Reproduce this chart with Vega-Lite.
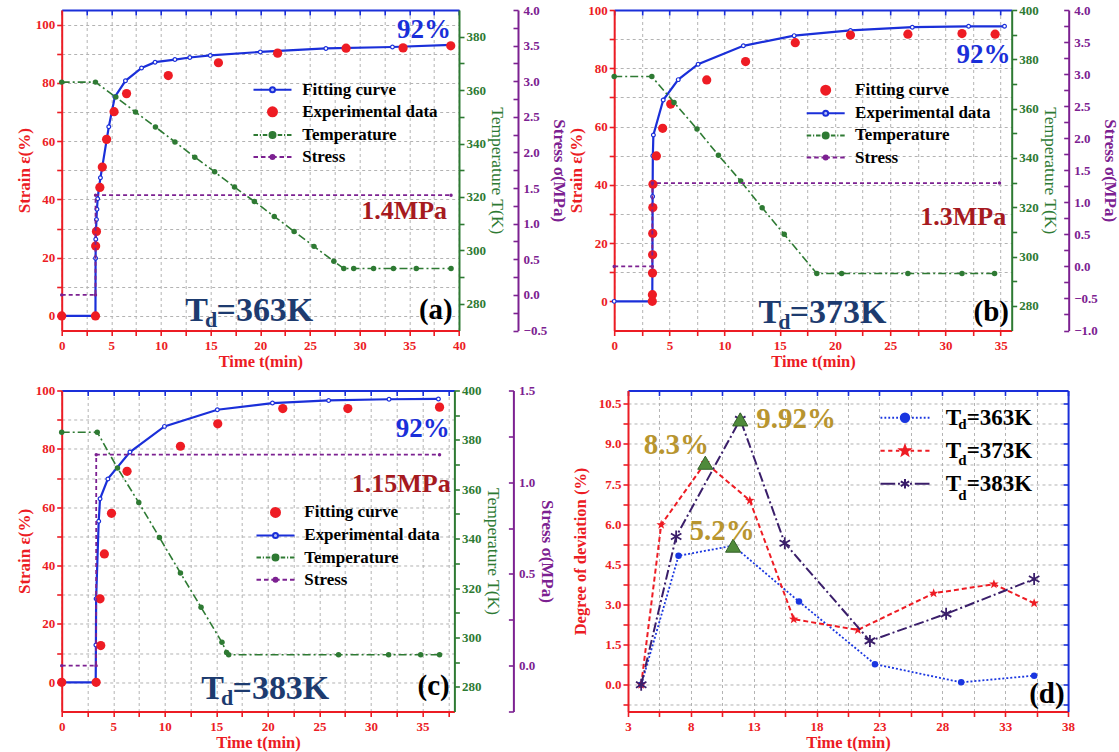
{
  "$schema": "https://vega.github.io/schema/vega-lite/v6.json",
  "background": "#ffffff",
  "padding": {"left": 14.7, "top": 4, "right": 4, "bottom": 4},
  "config": {
    "view": {"stroke": null},
    "font": "Liberation Serif",
    "axis": {
      "labelFont": "Liberation Serif", "titleFont": "Liberation Serif",
      "labelFontWeight": "bold", "titleFontWeight": "bold",
      "labelFontSize": 13, "titleFontSize": 17,
      "domainWidth": 2, "tickWidth": 1.6, "tickSize": 5,
      "labelPadding": 2, "titlePadding": 2,
      "labelFlush": false, "labelOverlap": false,
      "grid": false, "gridColor": "#b3b3b3", "gridDash": [3, 3], "gridWidth": 1
    },
    "legend": {"labelFont": "Liberation Serif", "labelFontWeight": "bold", "labelColor": "#000000", "labelLimit": 500, "padding": 0, "symbolOpacity": 1, "symbolStrokeWidth": 2}
  },
  "datasets": {
    "legend_keys": [{"series": "Fitting curve"}, {"series": "Experimental data"}, {"series": "Temperature"}, {"series": "Stress"}],
    "a_fit": [
      {"t": 0, "strain": 0}, {"t": 3.4, "strain": 0}, {"t": 3.41, "strain": 19.8}, {"t": 3.43, "strain": 26.3},
      {"t": 3.46, "strain": 29.7}, {"t": 3.5, "strain": 33.1}, {"t": 3.55, "strain": 36.6}, {"t": 3.62, "strain": 40.2},
      {"t": 3.75, "strain": 44}, {"t": 3.9, "strain": 47.4}, {"t": 4.1, "strain": 51.5}, {"t": 4.74, "strain": 64.9},
      {"t": 5.35, "strain": 75.2}, {"t": 6.42, "strain": 80.7}, {"t": 8.04, "strain": 85.1}, {"t": 9.4, "strain": 87.1},
      {"t": 11.4, "strain": 88}, {"t": 12.9, "strain": 88.7}, {"t": 14.96, "strain": 89.4}, {"t": 20, "strain": 90.6},
      {"t": 26.6, "strain": 91.8}, {"t": 33.3, "strain": 92.3}, {"t": 39.2, "strain": 93}
    ],
    "a_exp": [
      {"t": 0, "strain": 0}, {"t": 3.4, "strain": 0}, {"t": 3.42, "strain": 24}, {"t": 3.5, "strain": 29},
      {"t": 3.84, "strain": 44.1}, {"t": 4.09, "strain": 51.1}, {"t": 4.52, "strain": 60.6}, {"t": 5.27, "strain": 70.1},
      {"t": 6.53, "strain": 76.3}, {"t": 10.73, "strain": 82.5}, {"t": 15.78, "strain": 86.9}, {"t": 21.74, "strain": 90.2},
      {"t": 28.63, "strain": 91.9}, {"t": 34.37, "strain": 92}, {"t": 39.17, "strain": 92.7}
    ],
    "a_temp": [
      {"t": 0, "temp": 363}, {"t": 3.4, "temp": 363}, {"t": 5.45, "temp": 357.4}, {"t": 7.43, "temp": 351.8},
      {"t": 9.44, "temp": 346.2}, {"t": 11.4, "temp": 340.6}, {"t": 13.4, "temp": 334.9}, {"t": 15.4, "temp": 329.4},
      {"t": 17.4, "temp": 323.7}, {"t": 19.4, "temp": 318.3}, {"t": 21.4, "temp": 312.7}, {"t": 23.4, "temp": 307.1},
      {"t": 25.4, "temp": 301.5}, {"t": 27.4, "temp": 295.9}, {"t": 28.4, "temp": 293.2}, {"t": 29.4, "temp": 293.2},
      {"t": 31.4, "temp": 293.2}, {"t": 33.4, "temp": 293.2}, {"t": 35.7, "temp": 293.2}, {"t": 39.2, "temp": 293.2}
    ],
    "a_stress": [{"t": 0, "stress": 0}, {"t": 3.4, "stress": 0}, {"t": 3.41, "stress": 1.4}, {"t": 39.2, "stress": 1.4}],
    "b_blue": [
      {"t": 0, "strain": 0}, {"t": 3.4, "strain": 0}, {"t": 3.45, "strain": 1.7}, {"t": 3.46, "strain": 10},
      {"t": 3.47, "strain": 23}, {"t": 3.48, "strain": 36}, {"t": 3.5, "strain": 50}, {"t": 3.55, "strain": 57.1},
      {"t": 4.44, "strain": 69.1}, {"t": 5.8, "strain": 76.1}, {"t": 7.6, "strain": 81.4}, {"t": 11.7, "strain": 87.7},
      {"t": 16.3, "strain": 91.2}, {"t": 21.4, "strain": 93}, {"t": 27, "strain": 94.1}, {"t": 32.1, "strain": 94.4},
      {"t": 35.35, "strain": 94.4}
    ],
    "b_red": [
      {"t": 3.45, "strain": 0}, {"t": 3.46, "strain": 2.3}, {"t": 3.47, "strain": 9.7}, {"t": 3.48, "strain": 16},
      {"t": 3.49, "strain": 23.3}, {"t": 3.5, "strain": 32.2}, {"t": 3.51, "strain": 40.2}, {"t": 3.82, "strain": 49.9},
      {"t": 4.39, "strain": 59.4}, {"t": 5.12, "strain": 67.7}, {"t": 8.38, "strain": 76}, {"t": 11.9, "strain": 82.3},
      {"t": 16.4, "strain": 88.8}, {"t": 21.4, "strain": 91.4}, {"t": 26.6, "strain": 91.7}, {"t": 31.5, "strain": 91.9},
      {"t": 34.5, "strain": 91.7}
    ],
    "b_temp": [
      {"t": 0, "temp": 373}, {"t": 3.41, "temp": 373}, {"t": 5.42, "temp": 362.5}, {"t": 7.5, "temp": 351.7},
      {"t": 9.44, "temp": 341.1}, {"t": 11.46, "temp": 330.6}, {"t": 13.4, "temp": 319.8}, {"t": 15.4, "temp": 309},
      {"t": 18.35, "temp": 293.1}, {"t": 20.6, "temp": 293.1}, {"t": 26.6, "temp": 293.1}, {"t": 31.5, "temp": 293.1},
      {"t": 34.45, "temp": 293.1}
    ],
    "b_stress": [{"t": 0, "stress": 0}, {"t": 3.45, "stress": 0}, {"t": 3.46, "stress": 1.3}, {"t": 34.9, "stress": 1.3}],
    "c_blue": [
      {"t": 0, "strain": 0}, {"t": 3.3, "strain": 0}, {"t": 3.32, "strain": 12.8}, {"t": 3.34, "strain": 28.6},
      {"t": 3.59, "strain": 55.2}, {"t": 3.72, "strain": 62.9}, {"t": 4.48, "strain": 69.7}, {"t": 6.62, "strain": 78.9},
      {"t": 9.97, "strain": 87.7}, {"t": 15.1, "strain": 93.4}, {"t": 20.45, "strain": 95.7}, {"t": 25.9, "strain": 96.6},
      {"t": 31.76, "strain": 97}, {"t": 36.55, "strain": 97.1}
    ],
    "c_red": [
      {"t": 0, "strain": 0}, {"t": 3.34, "strain": 0}, {"t": 3.72, "strain": 28.6}, {"t": 3.79, "strain": 12.6},
      {"t": 4.14, "strain": 44}, {"t": 4.83, "strain": 57.9}, {"t": 6.34, "strain": 72.3}, {"t": 11.52, "strain": 80.9},
      {"t": 15.14, "strain": 88.6}, {"t": 21.45, "strain": 93.8}, {"t": 27.76, "strain": 93.8}, {"t": 36.66, "strain": 94.3}
    ],
    "c_temp": [
      {"t": 0, "temp": 383.1}, {"t": 3.45, "temp": 383.1}, {"t": 5.41, "temp": 368.6}, {"t": 7.48, "temp": 354.6},
      {"t": 9.48, "temp": 340.5}, {"t": 11.52, "temp": 326.1}, {"t": 13.52, "temp": 312.2}, {"t": 15.55, "temp": 298},
      {"t": 16, "temp": 293.9}, {"t": 16.2, "temp": 293}, {"t": 26.86, "temp": 293}, {"t": 31.72, "temp": 293},
      {"t": 34.83, "temp": 293}, {"t": 36.66, "temp": 293}
    ],
    "c_stress": [{"t": 0, "stress": 0}, {"t": 3.34, "stress": 0}, {"t": 3.35, "stress": 1.15}, {"t": 36.66, "stress": 1.15}],
    "d_dev": [
      {"Td": "363", "t": 4.05, "dev": 0}, {"Td": "363", "t": 7.02, "dev": 4.82}, {"Td": "363", "t": 11.36, "dev": 5.2},
      {"Td": "363", "t": 16.6, "dev": 3.11}, {"Td": "363", "t": 22.64, "dev": 0.77}, {"Td": "363", "t": 29.5, "dev": 0.09},
      {"Td": "363", "t": 35.3, "dev": 0.34},
      {"Td": "373", "t": 4.05, "dev": 0}, {"Td": "373", "t": 5.64, "dev": 5.98}, {"Td": "373", "t": 9.15, "dev": 8.3},
      {"Td": "373", "t": 12.69, "dev": 6.89}, {"Td": "373", "t": 16.18, "dev": 2.45}, {"Td": "373", "t": 21.28, "dev": 2.05},
      {"Td": "373", "t": 27.31, "dev": 3.42}, {"Td": "373", "t": 32.1, "dev": 3.76}, {"Td": "373", "t": 35.3, "dev": 3.05},
      {"Td": "383", "t": 4.05, "dev": 0}, {"Td": "383", "t": 6.83, "dev": 5.54}, {"Td": "383", "t": 11.93, "dev": 9.92},
      {"Td": "383", "t": 15.47, "dev": 5.29}, {"Td": "383", "t": 22.24, "dev": 1.64}, {"Td": "383", "t": 28.3, "dev": 2.65},
      {"Td": "383", "t": 35.3, "dev": 3.95}
    ],
    "d_peaks": [
      {"Td": "363", "t": 11.36, "dev": 5.2, "label": "5.2%"},
      {"Td": "373", "t": 9.15, "dev": 8.3, "label": "8.3%"},
      {"Td": "383", "t": 11.93, "dev": 9.92, "label": "9.92%"}
    ]
  },
  "spacing": 14.5,
  "resolve": {"scale": {"shape": "independent", "fill": "independent", "stroke": "independent", "strokeDash": "independent"}},
  "vconcat": [
    {
      "spacing": 154.5,
      "bounds": "flush",
      "resolve": {"scale": {"shape": "independent", "fill": "independent", "stroke": "independent", "strokeDash": "independent"}},
      "hconcat": [
        {
          "width": 397.3, "height": 320.5,
          "resolve": {"scale": {"y": "independent"}, "axis": {"x": "independent", "y": "independent"}},
          "layer": [
            {
              "data": {"name": "a_fit"},
              "mark": {"type": "line", "color": "#1a2fd9", "strokeWidth": 2.2, "point": {"filled": false, "fill": "#ffffff", "stroke": "#1a2fd9", "strokeWidth": 1.2, "size": 14}},
              "encoding": {
                "x": {"field": "t", "type": "quantitative", "scale": {"domain": [0, 40], "nice": false, "zero": false},
                  "axis": {"orient": "bottom", "values": [0, 2.5, 5, 7.5, 10, 12.5, 15, 17.5, 20, 22.5, 25, 27.5, 30, 32.5, 35, 37.5, 40], "labelExpr": "datum.value % 5 === 0 ? format(datum.value, 'd') : ''", "title": "Time t(min)", "titleFontSize": 16.5, "titleColor": "#ec1c24", "labelColor": "#ec1c24", "domainColor": "#ec1c24", "tickColor": "#ec1c24", "labelPadding": 4, "titlePadding": 1}},
                "y": {"field": "strain", "type": "quantitative", "scale": {"domain": [-5, 105], "nice": false, "zero": false},
                  "axis": {"orient": "left", "values": [0, 10, 20, 30, 40, 50, 60, 70, 80, 90, 100], "labelExpr": "datum.value % 20 === 0 ? datum.label : ''", "title": "Strain ε(%)", "titleColor": "#ec1c24", "labelColor": "#ec1c24", "domainColor": "#ec1c24", "tickColor": "#ec1c24", "grid": true}}
              }
            },
            {
              "data": {"name": "a_exp"},
              "mark": {"type": "point", "filled": true, "color": "#ee1c24", "opacity": 1, "size": 85},
              "encoding": {
                "x": {"field": "t", "type": "quantitative", "scale": {"domain": [0, 40], "nice": false, "zero": false},
                  "axis": {"orient": "top", "values": [0, 2.5, 5, 7.5, 10, 12.5, 15, 17.5, 20, 22.5, 25, 27.5, 30, 32.5, 35, 37.5, 40], "labels": false, "title": null, "tickSize": -5, "domainColor": "#1a2fd9", "tickColor": "#1a2fd9", "grid": true}},
                "y": {"field": "strain", "type": "quantitative", "scale": {"domain": [-5, 105], "nice": false, "zero": false}, "axis": null}
              }
            },
            {
              "data": {"name": "a_temp"},
              "mark": {"type": "line", "color": "#2e7a33", "strokeWidth": 1.6, "strokeDash": [8, 3, 2, 3], "point": {"filled": true, "color": "#2e7a33", "size": 30}},
              "encoding": {
                "x": {"field": "t", "type": "quantitative", "scale": {"domain": [0, 40], "nice": false, "zero": false}, "axis": null},
                "y": {"field": "temp", "type": "quantitative", "scale": {"domain": [270, 390], "nice": false, "zero": false},
                  "axis": {"orient": "right", "values": [280, 290, 300, 310, 320, 330, 340, 350, 360, 370, 380], "labelExpr": "datum.value % 20 === 0 ? datum.label : ''", "title": "Temperature T(K)", "titleFontWeight": "normal", "titleFontSize": 17.5, "titlePadding": 2.5, "titleColor": "#2e7a33", "labelColor": "#2e7a33", "domainColor": "#2e7a33", "tickColor": "#2e7a33"}}
              }
            },
            {
              "data": {"name": "a_stress"},
              "mark": {"type": "line", "color": "#7c2191", "strokeWidth": 1.8, "strokeDash": [4, 3], "point": {"filled": true, "color": "#7c2191", "size": 12}},
              "encoding": {
                "x": {"field": "t", "type": "quantitative", "scale": {"domain": [0, 40], "nice": false, "zero": false}, "axis": null},
                "y": {"field": "stress", "type": "quantitative", "scale": {"domain": [-0.5, 4], "nice": false, "zero": false},
                  "axis": {"orient": "right", "offset": 59, "values": [-0.5, -0.25, 0, 0.25, 0.5, 0.75, 1, 1.25, 1.5, 1.75, 2, 2.25, 2.5, 2.75, 3, 3.25, 3.5, 3.75, 4], "labelExpr": "datum.value % 0.5 === 0 ? format(datum.value, '.1f') : ''", "tickSize": -5, "labelPadding": 10, "title": "Stress σ(MPa)", "titlePadding": 3, "titleColor": "#7c2191", "labelColor": "#7c2191", "domainColor": "#7c2191", "tickColor": "#7c2191"}}
              }
            },
            {
              "data": {"values": [{"t": 39.2, "strain": 95.5, "note": "92%"}]},
              "mark": {"type": "text", "align": "right", "baseline": "alphabetic", "font": "Liberation Serif", "fontWeight": "bold", "fontSize": 27, "color": "#1a2fd9"},
              "encoding": {
                "x": {"field": "t", "type": "quantitative", "scale": {"domain": [0, 40], "nice": false, "zero": false}, "axis": null},
                "y": {"field": "strain", "type": "quantitative", "scale": {"domain": [-5, 105], "nice": false, "zero": false}, "axis": null},
                "text": {"field": "note", "type": "nominal"}
              }
            },
            {
              "data": {"values": [{"t": 38.8, "strain": 33.1, "note": "1.4MPa"}]},
              "mark": {"type": "text", "align": "right", "baseline": "alphabetic", "font": "Liberation Serif", "fontWeight": "bold", "fontSize": 26, "color": "#a61a1f"},
              "encoding": {
                "x": {"field": "t", "type": "quantitative", "scale": {"domain": [0, 40], "nice": false, "zero": false}, "axis": null},
                "y": {"field": "strain", "type": "quantitative", "scale": {"domain": [-5, 105], "nice": false, "zero": false}, "axis": null},
                "text": {"field": "note", "type": "nominal"}
              }
            },
            {
              "data": {"values": [{"t": 12.45, "strain": -1.7, "note": "T\u00a0=363K"}]},
              "mark": {"type": "text", "align": "left", "baseline": "alphabetic", "font": "Liberation Serif", "fontWeight": "bold", "fontSize": 34, "color": "#1d3b6f"},
              "encoding": {
                "x": {"field": "t", "type": "quantitative", "scale": {"domain": [0, 40], "nice": false, "zero": false}, "axis": null},
                "y": {"field": "strain", "type": "quantitative", "scale": {"domain": [-5, 105], "nice": false, "zero": false}, "axis": null},
                "text": {"field": "note", "type": "nominal"}
              }
            },
            {
              "data": {"values": [{"t": 12.45, "strain": -1.7, "note": "d"}]},
              "mark": {"type": "text", "align": "left", "baseline": "alphabetic", "dx": 19.7, "dy": 6.5, "font": "Liberation Serif", "fontWeight": "bold", "fontSize": 22, "color": "#1d3b6f"},
              "encoding": {
                "x": {"field": "t", "type": "quantitative", "scale": {"domain": [0, 40], "nice": false, "zero": false}, "axis": null},
                "y": {"field": "strain", "type": "quantitative", "scale": {"domain": [-5, 105], "nice": false, "zero": false}, "axis": null},
                "text": {"field": "note", "type": "nominal"}
              }
            },
            {
              "data": {"values": [{"t": 39.37, "strain": -1.1, "note": "(a)"}]},
              "mark": {"type": "text", "align": "right", "baseline": "alphabetic", "font": "Liberation Serif", "fontWeight": "bold", "fontSize": 29, "color": "#000000"},
              "encoding": {
                "x": {"field": "t", "type": "quantitative", "scale": {"domain": [0, 40], "nice": false, "zero": false}, "axis": null},
                "y": {"field": "strain", "type": "quantitative", "scale": {"domain": [-5, 105], "nice": false, "zero": false}, "axis": null},
                "text": {"field": "note", "type": "nominal"}
              }
            },
            {
              "data": {"name": "legend_keys"},
              "mark": {"type": "point", "filled": true, "opacity": 0, "size": 400},
              "encoding": {
                "shape": {"field": "series", "type": "nominal",
                  "scale": {"domain": ["Fitting curve", "Experimental data", "Temperature", "Stress"],
                    "range": [
                      "M-1.9,0H-0.25M0.25,0H1.9M0.25,0A0.25 0.25 0 1 1 -0.25,0A0.25 0.25 0 1 1 0.25,0Z",
                      "M0.45,0A0.45 0.45 0 1 1 -0.45,0A0.45 0.45 0 1 1 0.45,0Z",
                      "M-1.9,0H-1.45M-1.27,0H-1.15M-0.97,0H-0.52M0.52,0H0.97M1.15,0H1.27M1.45,0H1.9M0.3,0A0.3 0.3 0 1 1 -0.3,0A0.3 0.3 0 1 1 0.3,0Z",
                      "M-1.9,0H-1.45M-1.15,0H-0.7M-0.42,0H-0.2M0.2,0H0.42M0.7,0H1.15M1.45,0H1.9M0.2,0A0.2 0.2 0 1 1 -0.2,0A0.2 0.2 0 1 1 0.2,0Z"
                    ]},
                  "legend": {"title": null, "orient": "none", "legendX": 199.8, "legendY": 68.7, "symbolSize": 400, "labelOffset": 18.7, "rowPadding": 3.1, "labelFontSize": 17}
                },
                "fill": {"field": "series", "type": "nominal",
                  "scale": {"domain": ["Fitting curve", "Experimental data", "Temperature", "Stress"], "range": ["#b7c0f5", "#ee1c24", "#2e7a33", "#7c2191"]},
                  "legend": {"title": null, "orient": "none", "legendX": 199.8, "legendY": 68.7, "symbolSize": 400, "labelOffset": 18.7, "rowPadding": 3.1, "labelFontSize": 17}
                },
                "stroke": {"field": "series", "type": "nominal",
                  "scale": {"domain": ["Fitting curve", "Experimental data", "Temperature", "Stress"], "range": ["#1a2fd9", "#ee1c24", "#2e7a33", "#7c2191"]},
                  "legend": {"title": null, "orient": "none", "legendX": 199.8, "legendY": 68.7, "symbolSize": 400, "labelOffset": 18.7, "rowPadding": 3.1, "labelFontSize": 17}
                }
              }
            }
          ]
        },
        {
          "width": 397.5, "height": 320.5,
          "resolve": {"scale": {"y": "independent"}, "axis": {"x": "independent", "y": "independent"}},
          "layer": [
            {
              "data": {"name": "b_blue"},
              "mark": {"type": "line", "color": "#1a2fd9", "strokeWidth": 2.2, "point": {"filled": false, "fill": "#ffffff", "stroke": "#1a2fd9", "strokeWidth": 1.2, "size": 14}},
              "encoding": {
                "x": {"field": "t", "type": "quantitative", "scale": {"domain": [0, 36], "nice": false, "zero": false},
                  "axis": {"orient": "bottom", "values": [0, 2.5, 5, 7.5, 10, 12.5, 15, 17.5, 20, 22.5, 25, 27.5, 30, 32.5, 35], "labelExpr": "datum.value % 5 === 0 ? format(datum.value, 'd') : ''", "title": "Time t(min)", "titleFontSize": 16.5, "titleColor": "#ec1c24", "labelColor": "#ec1c24", "domainColor": "#ec1c24", "tickColor": "#ec1c24", "labelPadding": 4, "titlePadding": 1}},
                "y": {"field": "strain", "type": "quantitative", "scale": {"domain": [-10, 100], "nice": false, "zero": false},
                  "axis": {"orient": "left", "values": [0, 10, 20, 30, 40, 50, 60, 70, 80, 90, 100], "labelExpr": "datum.value % 20 === 0 ? datum.label : ''", "title": "Strain ε(%)", "titleColor": "#ec1c24", "labelColor": "#ec1c24", "domainColor": "#ec1c24", "tickColor": "#ec1c24", "grid": true}}
              }
            },
            {
              "data": {"name": "b_red"},
              "mark": {"type": "point", "filled": true, "color": "#ee1c24", "opacity": 1, "size": 85},
              "encoding": {
                "x": {"field": "t", "type": "quantitative", "scale": {"domain": [0, 36], "nice": false, "zero": false},
                  "axis": {"orient": "top", "values": [0, 2.5, 5, 7.5, 10, 12.5, 15, 17.5, 20, 22.5, 25, 27.5, 30, 32.5, 35], "labels": false, "title": null, "tickSize": -5, "domainColor": "#1a2fd9", "tickColor": "#1a2fd9", "grid": true}},
                "y": {"field": "strain", "type": "quantitative", "scale": {"domain": [-10, 100], "nice": false, "zero": false}, "axis": null}
              }
            },
            {
              "data": {"name": "b_temp"},
              "mark": {"type": "line", "color": "#2e7a33", "strokeWidth": 1.6, "strokeDash": [8, 3, 2, 3], "point": {"filled": true, "color": "#2e7a33", "size": 30}},
              "encoding": {
                "x": {"field": "t", "type": "quantitative", "scale": {"domain": [0, 36], "nice": false, "zero": false}, "axis": null},
                "y": {"field": "temp", "type": "quantitative", "scale": {"domain": [270, 400], "nice": false, "zero": false},
                  "axis": {"orient": "right", "values": [280, 290, 300, 310, 320, 330, 340, 350, 360, 370, 380, 390, 400], "labelExpr": "datum.value % 20 === 0 ? datum.label : ''", "title": "Temperature T(K)", "titleFontWeight": "normal", "titleFontSize": 17.5, "titlePadding": 2.5, "titleColor": "#2e7a33", "labelColor": "#2e7a33", "domainColor": "#2e7a33", "tickColor": "#2e7a33"}}
              }
            },
            {
              "data": {"name": "b_stress"},
              "mark": {"type": "line", "color": "#7c2191", "strokeWidth": 1.8, "strokeDash": [4, 3], "point": {"filled": true, "color": "#7c2191", "size": 12}},
              "encoding": {
                "x": {"field": "t", "type": "quantitative", "scale": {"domain": [0, 36], "nice": false, "zero": false}, "axis": null},
                "y": {"field": "stress", "type": "quantitative", "scale": {"domain": [-1, 4], "nice": false, "zero": false},
                  "axis": {"orient": "right", "offset": 57, "values": [-1, -0.75, -0.5, -0.25, 0, 0.25, 0.5, 0.75, 1, 1.25, 1.5, 1.75, 2, 2.25, 2.5, 2.75, 3, 3.25, 3.5, 3.75, 4], "labelExpr": "datum.value % 0.5 === 0 ? format(datum.value, '.1f') : ''", "tickSize": -5, "labelPadding": 10, "title": "Stress σ(MPa)", "titlePadding": 3, "titleColor": "#7c2191", "labelColor": "#7c2191", "domainColor": "#7c2191", "tickColor": "#7c2191"}}
              }
            },
            {
              "data": {"values": [{"t": 35.89, "strain": 81.7, "note": "92%"}]},
              "mark": {"type": "text", "align": "right", "baseline": "alphabetic", "font": "Liberation Serif", "fontWeight": "bold", "fontSize": 27, "color": "#1a2fd9"},
              "encoding": {
                "x": {"field": "t", "type": "quantitative", "scale": {"domain": [0, 36], "nice": false, "zero": false}, "axis": null},
                "y": {"field": "strain", "type": "quantitative", "scale": {"domain": [-10, 100], "nice": false, "zero": false}, "axis": null},
                "text": {"field": "note", "type": "nominal"}
              }
            },
            {
              "data": {"values": [{"t": 35.5, "strain": 26.3, "note": "1.3MPa"}]},
              "mark": {"type": "text", "align": "right", "baseline": "alphabetic", "font": "Liberation Serif", "fontWeight": "bold", "fontSize": 26, "color": "#a61a1f"},
              "encoding": {
                "x": {"field": "t", "type": "quantitative", "scale": {"domain": [0, 36], "nice": false, "zero": false}, "axis": null},
                "y": {"field": "strain", "type": "quantitative", "scale": {"domain": [-10, 100], "nice": false, "zero": false}, "axis": null},
                "text": {"field": "note", "type": "nominal"}
              }
            },
            {
              "data": {"values": [{"t": 13.07, "strain": -7.4, "note": "T\u00a0=373K"}]},
              "mark": {"type": "text", "align": "left", "baseline": "alphabetic", "font": "Liberation Serif", "fontWeight": "bold", "fontSize": 34, "color": "#1d3b6f"},
              "encoding": {
                "x": {"field": "t", "type": "quantitative", "scale": {"domain": [0, 36], "nice": false, "zero": false}, "axis": null},
                "y": {"field": "strain", "type": "quantitative", "scale": {"domain": [-10, 100], "nice": false, "zero": false}, "axis": null},
                "text": {"field": "note", "type": "nominal"}
              }
            },
            {
              "data": {"values": [{"t": 13.07, "strain": -7.4, "note": "d"}]},
              "mark": {"type": "text", "align": "left", "baseline": "alphabetic", "dx": 19.7, "dy": 6.5, "font": "Liberation Serif", "fontWeight": "bold", "fontSize": 22, "color": "#1d3b6f"},
              "encoding": {
                "x": {"field": "t", "type": "quantitative", "scale": {"domain": [0, 36], "nice": false, "zero": false}, "axis": null},
                "y": {"field": "strain", "type": "quantitative", "scale": {"domain": [-10, 100], "nice": false, "zero": false}, "axis": null},
                "text": {"field": "note", "type": "nominal"}
              }
            },
            {
              "data": {"values": [{"t": 35.76, "strain": -6.9, "note": "(b)"}]},
              "mark": {"type": "text", "align": "right", "baseline": "alphabetic", "font": "Liberation Serif", "fontWeight": "bold", "fontSize": 29, "color": "#000000"},
              "encoding": {
                "x": {"field": "t", "type": "quantitative", "scale": {"domain": [0, 36], "nice": false, "zero": false}, "axis": null},
                "y": {"field": "strain", "type": "quantitative", "scale": {"domain": [-10, 100], "nice": false, "zero": false}, "axis": null},
                "text": {"field": "note", "type": "nominal"}
              }
            },
            {
              "data": {"name": "legend_keys"},
              "mark": {"type": "point", "filled": true, "opacity": 0, "size": 400},
              "encoding": {
                "shape": {"field": "series", "type": "nominal",
                  "scale": {"domain": ["Fitting curve", "Experimental data", "Temperature", "Stress"],
                    "range": [
                      "M0.45,0A0.45 0.45 0 1 1 -0.45,0A0.45 0.45 0 1 1 0.45,0Z",
                      "M-1.9,0H-0.25M0.25,0H1.9M0.25,0A0.25 0.25 0 1 1 -0.25,0A0.25 0.25 0 1 1 0.25,0Z",
                      "M-1.9,0H-1.45M-1.27,0H-1.15M-0.97,0H-0.52M0.52,0H0.97M1.15,0H1.27M1.45,0H1.9M0.3,0A0.3 0.3 0 1 1 -0.3,0A0.3 0.3 0 1 1 0.3,0Z",
                      "M-1.9,0H-1.45M-1.15,0H-0.7M-0.42,0H-0.2M0.2,0H0.42M0.7,0H1.15M1.45,0H1.9M0.2,0A0.2 0.2 0 1 1 -0.2,0A0.2 0.2 0 1 1 0.2,0Z"
                    ]},
                  "legend": {"title": null, "orient": "none", "legendX": 200.5, "legendY": 69.2, "symbolSize": 400, "labelOffset": 18.4, "rowPadding": 3.1, "labelFontSize": 17}
                },
                "fill": {"field": "series", "type": "nominal",
                  "scale": {"domain": ["Fitting curve", "Experimental data", "Temperature", "Stress"], "range": ["#ee1c24", "#b7c0f5", "#2e7a33", "#7c2191"]},
                  "legend": {"title": null, "orient": "none", "legendX": 200.5, "legendY": 69.2, "symbolSize": 400, "labelOffset": 18.4, "rowPadding": 3.1, "labelFontSize": 17}
                },
                "stroke": {"field": "series", "type": "nominal",
                  "scale": {"domain": ["Fitting curve", "Experimental data", "Temperature", "Stress"], "range": ["#ee1c24", "#1a2fd9", "#2e7a33", "#7c2191"]},
                  "legend": {"title": null, "orient": "none", "legendX": 200.5, "legendY": 69.2, "symbolSize": 400, "labelOffset": 18.4, "rowPadding": 3.1, "labelFontSize": 17}
                }
              }
            }
          ]
        }
      ]
    },
    {
      "spacing": 173.3,
      "bounds": "flush",
      "resolve": {"scale": {"shape": "independent", "fill": "independent", "stroke": "independent", "strokeDash": "independent"}},
      "hconcat": [
        {
          "width": 392.7, "height": 321,
          "resolve": {"scale": {"y": "independent"}, "axis": {"x": "independent", "y": "independent"}},
          "layer": [
            {
              "data": {"name": "c_blue"},
              "mark": {"type": "line", "color": "#1a2fd9", "strokeWidth": 2.2, "point": {"filled": false, "fill": "#ffffff", "stroke": "#1a2fd9", "strokeWidth": 1.2, "size": 14}},
              "encoding": {
                "x": {"field": "t", "type": "quantitative", "scale": {"domain": [0, 38.1], "nice": false, "zero": false},
                  "axis": {"orient": "bottom", "values": [0, 2.5, 5, 7.5, 10, 12.5, 15, 17.5, 20, 22.5, 25, 27.5, 30, 32.5, 35, 37.5], "labelExpr": "datum.value % 5 === 0 ? format(datum.value, 'd') : ''", "title": "Time t(min)", "titleFontSize": 16.5, "titleColor": "#ec1c24", "labelColor": "#ec1c24", "domainColor": "#ec1c24", "tickColor": "#ec1c24", "labelPadding": 4, "titlePadding": 1}},
                "y": {"field": "strain", "type": "quantitative", "scale": {"domain": [-10, 100], "nice": false, "zero": false},
                  "axis": {"orient": "left", "values": [0, 10, 20, 30, 40, 50, 60, 70, 80, 90, 100], "labelExpr": "datum.value % 20 === 0 ? datum.label : ''", "title": "Strain ε(%)", "titleColor": "#ec1c24", "labelColor": "#ec1c24", "domainColor": "#ec1c24", "tickColor": "#ec1c24", "grid": true}}
              }
            },
            {
              "data": {"name": "c_red"},
              "mark": {"type": "point", "filled": true, "color": "#ee1c24", "opacity": 1, "size": 85},
              "encoding": {
                "x": {"field": "t", "type": "quantitative", "scale": {"domain": [0, 38.1], "nice": false, "zero": false},
                  "axis": {"orient": "top", "values": [0, 2.5, 5, 7.5, 10, 12.5, 15, 17.5, 20, 22.5, 25, 27.5, 30, 32.5, 35, 37.5], "labels": false, "title": null, "tickSize": -5, "domainColor": "#1a2fd9", "tickColor": "#1a2fd9", "grid": true}},
                "y": {"field": "strain", "type": "quantitative", "scale": {"domain": [-10, 100], "nice": false, "zero": false}, "axis": null}
              }
            },
            {
              "data": {"name": "c_temp"},
              "mark": {"type": "line", "color": "#2e7a33", "strokeWidth": 1.6, "strokeDash": [8, 3, 2, 3], "point": {"filled": true, "color": "#2e7a33", "size": 30}},
              "encoding": {
                "x": {"field": "t", "type": "quantitative", "scale": {"domain": [0, 38.1], "nice": false, "zero": false}, "axis": null},
                "y": {"field": "temp", "type": "quantitative", "scale": {"domain": [270, 400], "nice": false, "zero": false},
                  "axis": {"orient": "right", "values": [280, 290, 300, 310, 320, 330, 340, 350, 360, 370, 380, 390, 400], "labelExpr": "datum.value % 20 === 0 ? datum.label : ''", "title": "Temperature T(K)", "titleFontWeight": "normal", "titleFontSize": 17.5, "titlePadding": 2.5, "titleColor": "#2e7a33", "labelColor": "#2e7a33", "domainColor": "#2e7a33", "tickColor": "#2e7a33"}}
              }
            },
            {
              "data": {"name": "c_stress"},
              "mark": {"type": "line", "color": "#7c2191", "strokeWidth": 1.8, "strokeDash": [4, 3], "point": {"filled": true, "color": "#7c2191", "size": 12}},
              "encoding": {
                "x": {"field": "t", "type": "quantitative", "scale": {"domain": [0, 38.1], "nice": false, "zero": false}, "axis": null},
                "y": {"field": "stress", "type": "quantitative", "scale": {"domain": [-0.25, 1.5], "nice": false, "zero": false},
                  "axis": {"orient": "right", "offset": 59, "values": [-0.25, 0, 0.25, 0.5, 0.75, 1, 1.25, 1.5], "labelExpr": "datum.value % 0.5 === 0 ? format(datum.value, '.1f') : ''", "tickSize": -5, "labelPadding": 10, "title": "Stress σ(MPa)", "titlePadding": 3, "titleColor": "#7c2191", "labelColor": "#7c2191", "domainColor": "#7c2191", "tickColor": "#7c2191"}}
              }
            },
            {
              "data": {"values": [{"t": 37.64, "strain": 84, "note": "92%"}]},
              "mark": {"type": "text", "align": "right", "baseline": "alphabetic", "font": "Liberation Serif", "fontWeight": "bold", "fontSize": 27, "color": "#1a2fd9"},
              "encoding": {
                "x": {"field": "t", "type": "quantitative", "scale": {"domain": [0, 38.1], "nice": false, "zero": false}, "axis": null},
                "y": {"field": "strain", "type": "quantitative", "scale": {"domain": [-10, 100], "nice": false, "zero": false}, "axis": null},
                "text": {"field": "note", "type": "nominal"}
              }
            },
            {
              "data": {"values": [{"t": 37.74, "strain": 65.1, "note": "1.15MPa"}]},
              "mark": {"type": "text", "align": "right", "baseline": "alphabetic", "font": "Liberation Serif", "fontWeight": "bold", "fontSize": 26, "color": "#a61a1f"},
              "encoding": {
                "x": {"field": "t", "type": "quantitative", "scale": {"domain": [0, 38.1], "nice": false, "zero": false}, "axis": null},
                "y": {"field": "strain", "type": "quantitative", "scale": {"domain": [-10, 100], "nice": false, "zero": false}, "axis": null},
                "text": {"field": "note", "type": "nominal"}
              }
            },
            {
              "data": {"values": [{"t": 13.55, "strain": -5.7, "note": "T\u00a0=383K"}]},
              "mark": {"type": "text", "align": "left", "baseline": "alphabetic", "font": "Liberation Serif", "fontWeight": "bold", "fontSize": 34, "color": "#1d3b6f"},
              "encoding": {
                "x": {"field": "t", "type": "quantitative", "scale": {"domain": [0, 38.1], "nice": false, "zero": false}, "axis": null},
                "y": {"field": "strain", "type": "quantitative", "scale": {"domain": [-10, 100], "nice": false, "zero": false}, "axis": null},
                "text": {"field": "note", "type": "nominal"}
              }
            },
            {
              "data": {"values": [{"t": 13.55, "strain": -5.7, "note": "d"}]},
              "mark": {"type": "text", "align": "left", "baseline": "alphabetic", "dx": 19.7, "dy": 6.5, "font": "Liberation Serif", "fontWeight": "bold", "fontSize": 22, "color": "#1d3b6f"},
              "encoding": {
                "x": {"field": "t", "type": "quantitative", "scale": {"domain": [0, 38.1], "nice": false, "zero": false}, "axis": null},
                "y": {"field": "strain", "type": "quantitative", "scale": {"domain": [-10, 100], "nice": false, "zero": false}, "axis": null},
                "text": {"field": "note", "type": "nominal"}
              }
            },
            {
              "data": {"values": [{"t": 37.64, "strain": -4.5, "note": "(c)"}]},
              "mark": {"type": "text", "align": "right", "baseline": "alphabetic", "font": "Liberation Serif", "fontWeight": "bold", "fontSize": 29, "color": "#000000"},
              "encoding": {
                "x": {"field": "t", "type": "quantitative", "scale": {"domain": [0, 38.1], "nice": false, "zero": false}, "axis": null},
                "y": {"field": "strain", "type": "quantitative", "scale": {"domain": [-10, 100], "nice": false, "zero": false}, "axis": null},
                "text": {"field": "note", "type": "nominal"}
              }
            },
            {
              "data": {"name": "legend_keys"},
              "mark": {"type": "point", "filled": true, "opacity": 0, "size": 400},
              "encoding": {
                "shape": {"field": "series", "type": "nominal",
                  "scale": {"domain": ["Fitting curve", "Experimental data", "Temperature", "Stress"],
                    "range": [
                      "M0.45,0A0.45 0.45 0 1 1 -0.45,0A0.45 0.45 0 1 1 0.45,0Z",
                      "M-1.9,0H-0.25M0.25,0H1.9M0.25,0A0.25 0.25 0 1 1 -0.25,0A0.25 0.25 0 1 1 0.25,0Z",
                      "M-1.9,0H-1.45M-1.27,0H-1.15M-0.97,0H-0.52M0.52,0H0.97M1.15,0H1.27M1.45,0H1.9M0.3,0A0.3 0.3 0 1 1 -0.3,0A0.3 0.3 0 1 1 0.3,0Z",
                      "M-1.9,0H-1.45M-1.15,0H-0.7M-0.42,0H-0.2M0.2,0H0.42M0.7,0H1.15M1.45,0H1.9M0.2,0A0.2 0.2 0 1 1 -0.2,0A0.2 0.2 0 1 1 0.2,0Z"
                    ]},
                  "legend": {"title": null, "orient": "none", "legendX": 202.8, "legendY": 110.9, "symbolSize": 400, "labelOffset": 17.8, "rowPadding": 3.1, "labelFontSize": 17}
                },
                "fill": {"field": "series", "type": "nominal",
                  "scale": {"domain": ["Fitting curve", "Experimental data", "Temperature", "Stress"], "range": ["#ee1c24", "#b7c0f5", "#2e7a33", "#7c2191"]},
                  "legend": {"title": null, "orient": "none", "legendX": 202.8, "legendY": 110.9, "symbolSize": 400, "labelOffset": 17.8, "rowPadding": 3.1, "labelFontSize": 17}
                },
                "stroke": {"field": "series", "type": "nominal",
                  "scale": {"domain": ["Fitting curve", "Experimental data", "Temperature", "Stress"], "range": ["#ee1c24", "#1a2fd9", "#2e7a33", "#7c2191"]},
                  "legend": {"title": null, "orient": "none", "legendX": 202.8, "legendY": 110.9, "symbolSize": 400, "labelOffset": 17.8, "rowPadding": 3.1, "labelFontSize": 17}
                }
              }
            }
          ]
        },
        {
          "width": 440.1, "height": 321,
          "resolve": {"axis": {"x": "independent", "y": "independent"}},
          "layer": [
            {
              "data": {"name": "d_dev"},
              "transform": [{"filter": "datum.Td === '363'"}],
              "mark": {"type": "line", "color": "#1a36e0", "strokeWidth": 1.8, "strokeDash": [2, 2], "point": {"filled": true, "color": "#1a36e0", "size": 42}},
              "encoding": {
                "x": {"field": "t", "type": "quantitative", "scale": {"domain": [3, 38], "nice": false, "zero": false},
                  "axis": {"orient": "bottom", "values": [3, 5.5, 8, 10.5, 13, 15.5, 18, 20.5, 23, 25.5, 28, 30.5, 33, 35.5, 38], "labelExpr": "(datum.value - 3) % 5 === 0 ? format(datum.value, 'd') : ''", "title": "Time t(min)", "titleFontSize": 16.5, "titleColor": "#ec1c24", "labelColor": "#ec1c24", "domainColor": "#ec1c24", "tickColor": "#ec1c24", "labelPadding": 4, "titlePadding": 1}},
                "y": {"field": "dev", "type": "quantitative", "scale": {"domain": [-1, 11], "nice": false, "zero": false},
                  "axis": {"orient": "left", "values": [-0.75, 0, 0.75, 1.5, 2.25, 3, 3.75, 4.5, 5.25, 6, 6.75, 7.5, 8.25, 9, 9.75, 10.5], "labelExpr": "datum.value % 1.5 === 0 ? format(datum.value, '.1f') : ''", "title": "Degree of deviation (%)", "titleFontSize": 16.5, "titlePadding": 10, "titleColor": "#ec1c24", "labelColor": "#ec1c24", "domainColor": "#ec1c24", "tickColor": "#ec1c24", "grid": true}}
              }
            },
            {
              "data": {"name": "d_dev"},
              "transform": [{"filter": "datum.Td === '373'"}],
              "mark": {"type": "line", "color": "#ee1c24", "strokeWidth": 2, "strokeDash": [5, 3], "point": {"filled": true, "color": "#ee1c24", "size": 100, "shape": "M0,-1L0.235,-0.324L0.951,-0.309L0.38,0.124L0.588,0.809L0,0.4L-0.588,0.809L-0.38,0.124L-0.951,-0.309L-0.235,-0.324Z"}},
              "encoding": {
                "x": {"field": "t", "type": "quantitative", "scale": {"domain": [3, 38], "nice": false, "zero": false},
                  "axis": {"orient": "top", "values": [3, 5.5, 8, 10.5, 13, 15.5, 18, 20.5, 23, 25.5, 28, 30.5, 33, 35.5, 38], "labels": false, "title": null, "tickSize": -5, "domainColor": "#1a2fd9", "tickColor": "#1a2fd9", "grid": true}},
                "y": {"field": "dev", "type": "quantitative", "scale": {"domain": [-1, 11], "nice": false, "zero": false},
                  "axis": {"orient": "right", "values": [-0.75, 0, 0.75, 1.5, 2.25, 3, 3.75, 4.5, 5.25, 6, 6.75, 7.5, 8.25, 9, 9.75, 10.5], "labels": false, "title": null, "tickSize": -5, "domainColor": "#1a2fd9", "tickColor": "#1a2fd9"}}
              }
            },
            {
              "data": {"name": "d_dev"},
              "transform": [{"filter": "datum.Td === '383'"}],
              "mark": {"type": "line", "color": "#3a1e6a", "strokeWidth": 2, "strokeDash": [10, 3, 2, 3], "point": {"filled": false, "color": "#3a1e6a", "size": 144, "strokeWidth": 1.8, "shape": "M0,-1V1M-0.87,-0.5L0.87,0.5M-0.87,0.5L0.87,-0.5"}},
              "encoding": {
                "x": {"field": "t", "type": "quantitative", "scale": {"domain": [3, 38], "nice": false, "zero": false}, "axis": null},
                "y": {"field": "dev", "type": "quantitative", "scale": {"domain": [-1, 11], "nice": false, "zero": false}, "axis": null}
              }
            },
            {
              "data": {"name": "d_peaks"},
              "mark": {"type": "point", "shape": "triangle-up", "filled": true, "fill": "#4f8a3a", "stroke": "#35612a", "strokeWidth": 1, "size": 230, "opacity": 1},
              "encoding": {
                "x": {"field": "t", "type": "quantitative", "scale": {"domain": [3, 38], "nice": false, "zero": false}, "axis": null},
                "y": {"field": "dev", "type": "quantitative", "scale": {"domain": [-1, 11], "nice": false, "zero": false}, "axis": null}
              }
            },
            {
              "data": {"name": "d_peaks"},
              "transform": [{"filter": "datum.Td === '383'"}],
              "mark": {"type": "text", "align": "left", "baseline": "middle", "dx": 16, "font": "Liberation Serif", "fontWeight": "bold", "fontSize": 29, "color": "#b8952f"},
              "encoding": {
                "x": {"field": "t", "type": "quantitative", "scale": {"domain": [3, 38], "nice": false, "zero": false}, "axis": null},
                "y": {"field": "dev", "type": "quantitative", "scale": {"domain": [-1, 11], "nice": false, "zero": false}, "axis": null},
                "text": {"field": "label", "type": "nominal"}
              }
            },
            {
              "data": {"name": "d_peaks"},
              "transform": [{"filter": "datum.Td === '373'"}],
              "mark": {"type": "text", "align": "center", "baseline": "middle", "dx": -29, "dy": -18, "font": "Liberation Serif", "fontWeight": "bold", "fontSize": 29, "color": "#b8952f"},
              "encoding": {
                "x": {"field": "t", "type": "quantitative", "scale": {"domain": [3, 38], "nice": false, "zero": false}, "axis": null},
                "y": {"field": "dev", "type": "quantitative", "scale": {"domain": [-1, 11], "nice": false, "zero": false}, "axis": null},
                "text": {"field": "label", "type": "nominal"}
              }
            },
            {
              "data": {"name": "d_peaks"},
              "transform": [{"filter": "datum.Td === '363'"}],
              "mark": {"type": "text", "align": "center", "baseline": "middle", "dx": -11, "dy": -15, "font": "Liberation Serif", "fontWeight": "bold", "fontSize": 29, "color": "#b8952f"},
              "encoding": {
                "x": {"field": "t", "type": "quantitative", "scale": {"domain": [3, 38], "nice": false, "zero": false}, "axis": null},
                "y": {"field": "dev", "type": "quantitative", "scale": {"domain": [-1, 11], "nice": false, "zero": false}, "axis": null},
                "text": {"field": "label", "type": "nominal"}
              }
            },
            {
              "data": {"values": [{"t": 37.72, "dev": -0.68, "note": "(d)"}]},
              "mark": {"type": "text", "align": "right", "baseline": "alphabetic", "font": "Liberation Serif", "fontWeight": "bold", "fontSize": 29, "color": "#000000"},
              "encoding": {
                "x": {"field": "t", "type": "quantitative", "scale": {"domain": [3, 38], "nice": false, "zero": false}, "axis": null},
                "y": {"field": "dev", "type": "quantitative", "scale": {"domain": [-1, 11], "nice": false, "zero": false}, "axis": null},
                "text": {"field": "note", "type": "nominal"}
              }
            },
            {
              "data": {"name": "d_peaks"},
              "mark": {"type": "point", "filled": true, "opacity": 0, "size": 784},
              "encoding": {
                "shape": {"field": "Td", "type": "nominal",
                  "scale": {"domain": ["363", "373", "383"],
                    "range": [
                      "M-1.75,0H-1.62M-1.47,0H-1.34M-1.19,0H-1.06M-0.91,0H-0.78M-0.63,0H-0.5M0.5,0H0.63M0.78,0H0.91M1.06,0H1.19M1.34,0H1.47M1.62,0H1.75M0.3,0A0.3 0.3 0 1 1 -0.3,0A0.3 0.3 0 1 1 0.3,0Z",
                      "M-1.75,0H-1.45M-1.2,0H-0.9M-0.65,0H-0.4M0.4,0H0.65M0.9,0H1.2M1.45,0H1.75M0,-0.36L0.085,-0.117L0.342,-0.111L0.137,0.044L0.212,0.291L0,0.144L-0.212,0.291L-0.137,0.044L-0.342,-0.111L-0.085,-0.117Z",
                      "M-1.75,0H-0.7M-0.5,0H-0.36M0.36,0H0.5M0.7,0H1.75M0,-0.34V0.34M-0.3,-0.17L0.3,0.17M-0.3,0.17L0.3,-0.17"
                    ]},
                  "legend": {"title": null, "orient": "none", "legendX": 262, "legendY": 12.3, "symbolSize": 784, "labelOffset": 25.7, "rowPadding": 6, "labelFontSize": 23, "labelExpr": "'T\u00a0=' + datum.value + 'K'"}
                },
                "fill": {"field": "Td", "type": "nominal",
                  "scale": {"domain": ["363", "373", "383"], "range": ["#1a36e0", "#ee1c24", "#3a1e6a"]},
                  "legend": {"title": null, "orient": "none", "legendX": 262, "legendY": 12.3, "symbolSize": 784, "labelOffset": 25.7, "rowPadding": 6, "labelFontSize": 23, "labelExpr": "'T\u00a0=' + datum.value + 'K'"}
                },
                "stroke": {"field": "Td", "type": "nominal",
                  "scale": {"domain": ["363", "373", "383"], "range": ["#1a36e0", "#ee1c24", "#3a1e6a"]},
                  "legend": {"title": null, "orient": "none", "legendX": 262, "legendY": 12.3, "symbolSize": 784, "labelOffset": 25.7, "rowPadding": 6, "labelFontSize": 23, "labelExpr": "'T\u00a0=' + datum.value + 'K'"}
                }
              }
            },
            {
              "data": {"name": "d_dev"},
              "mark": {"type": "point", "filled": true, "opacity": 0, "size": 784},
              "encoding": {
                "strokeDash": {"field": "Td", "type": "nominal",
                  "legend": {"title": null, "orient": "none", "legendX": 274.6, "legendY": 19, "symbolSize": 784, "symbolOpacity": 0, "labelOffset": 25.7, "rowPadding": 6.5, "labelFontSize": 15, "labelExpr": "'d'"}
                }
              }
            }
          ]
        }
      ]
    }
  ]
}
